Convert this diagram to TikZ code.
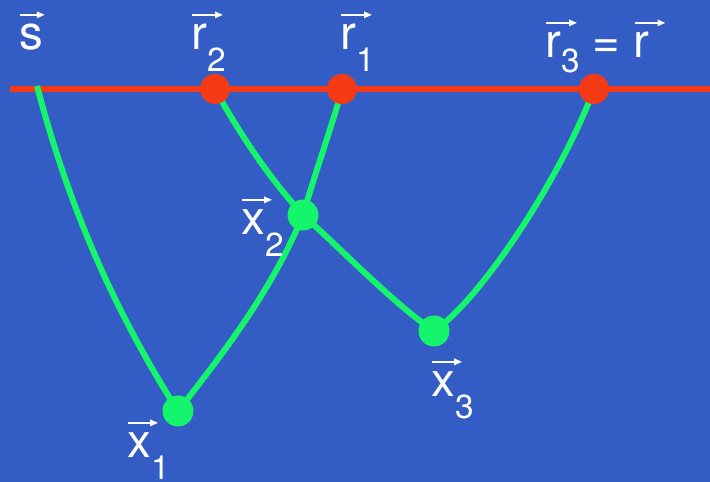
\documentclass[tikz,border=0pt]{standalone}
\usepackage{fontspec}
\setmainfont{TeX Gyre Heros}
\usetikzlibrary{backgrounds,arrows.meta}
\definecolor{SlideBlue}{HTML}{335DC5}
\definecolor{RayRed}{HTML}{F53A16}
\definecolor{PathGreen}{HTML}{14F56B}
% letter with a thin vector arrow over it
\newcommand{\vlet}[2][16pt]{\leavevmode\rlap{\tikz[x=1pt,y=1pt,baseline=0pt]{%
  \path (0,0);
  \draw[white,line width=1pt,-{Triangle[length=4.5pt,width=3.6pt]}] (-1.5,20) -- (#1,20);}}#2}
\newcommand{\vsub}[2][12pt]{\raisebox{-#1}{\fontsize{19}{19}\selectfont #2}}
\tikzset{
  rdot/.style={circle,fill=RayRed,inner sep=0pt,minimum size=0.6cm},
  xdot/.style={circle,fill=PathGreen,inner sep=0pt,minimum size=0.62cm},
  ray/.style={PathGreen,line width=3.4pt},
  surf/.style={RayRed,line width=3.9pt},
  lab/.style={anchor=base west,inner sep=0pt,text=white,font=\fontsize{27}{30}\selectfont},
}

\begin{document}
\begin{tikzpicture}[x=0.02cm,y=-0.02cm]
  \useasboundingbox (0,0) rectangle (710,482);
  % surface ends and source
  \coordinate (w) at (10,89);
  \coordinate (e) at (710,89);
  \coordinate (s) at (37,86);
  % receivers and scatterers
  \node[rdot] (r2) at (215,89) {};
  \node[rdot] (r1) at (342,89) {};
  \node[rdot] (r3) at (594,89) {};
  \node[xdot] (x2) at (303,215) {};
  \node[xdot] (x1) at (178,411) {};
  \node[xdot] (x3) at (434,331) {};

  \begin{scope}[on background layer]
    \fill[SlideBlue] (0,0) rectangle (710,482);
    \draw[surf] (w) -- (e);
    \draw[ray] (s) .. controls (66,196) and (108,301) .. (x1.center);
    \draw[ray] (x1.center) .. controls (233,341) and (274,285) .. (x2.center);
    \draw[ray] (x2.center) .. controls (316,170) and (334,120) .. (r1.center);
    \draw[ray] (r2.center) .. controls (232,120) and (262,170) .. (x2.center);
    \draw[ray] (x2.center) .. controls (340,248) and (395,305) .. (x3.center);
    \draw[ray] (x3.center) .. controls (480,300) and (560,180) .. (r3.center);
  \end{scope}

  % labels
  \node[lab] (slab)  at (19,50)   {\vlet[12.5pt]{s}};
  \node[lab] (r2lab) at (191,50)  {\vlet{r}\vsub{2}};
  \node[lab] (r1lab) at (340,50)  {\vlet{r}\vsub{1}};
  \node[lab] (r3lab) at (545,58)  {\vlet{r}\vsub[8pt]{3} = \vlet{r}};
  \node[lab] (x2lab) at (241,235) {\vlet[15.5pt]{x}\vsub{2}};
  \node[lab] (x1lab) at (127,458) {\vlet[15.5pt]{x}\vsub{1}};
  \node[lab] (x3lab) at (431,397) {\vlet[15.5pt]{x}\vsub{3}};
\end{tikzpicture}
\end{document}
